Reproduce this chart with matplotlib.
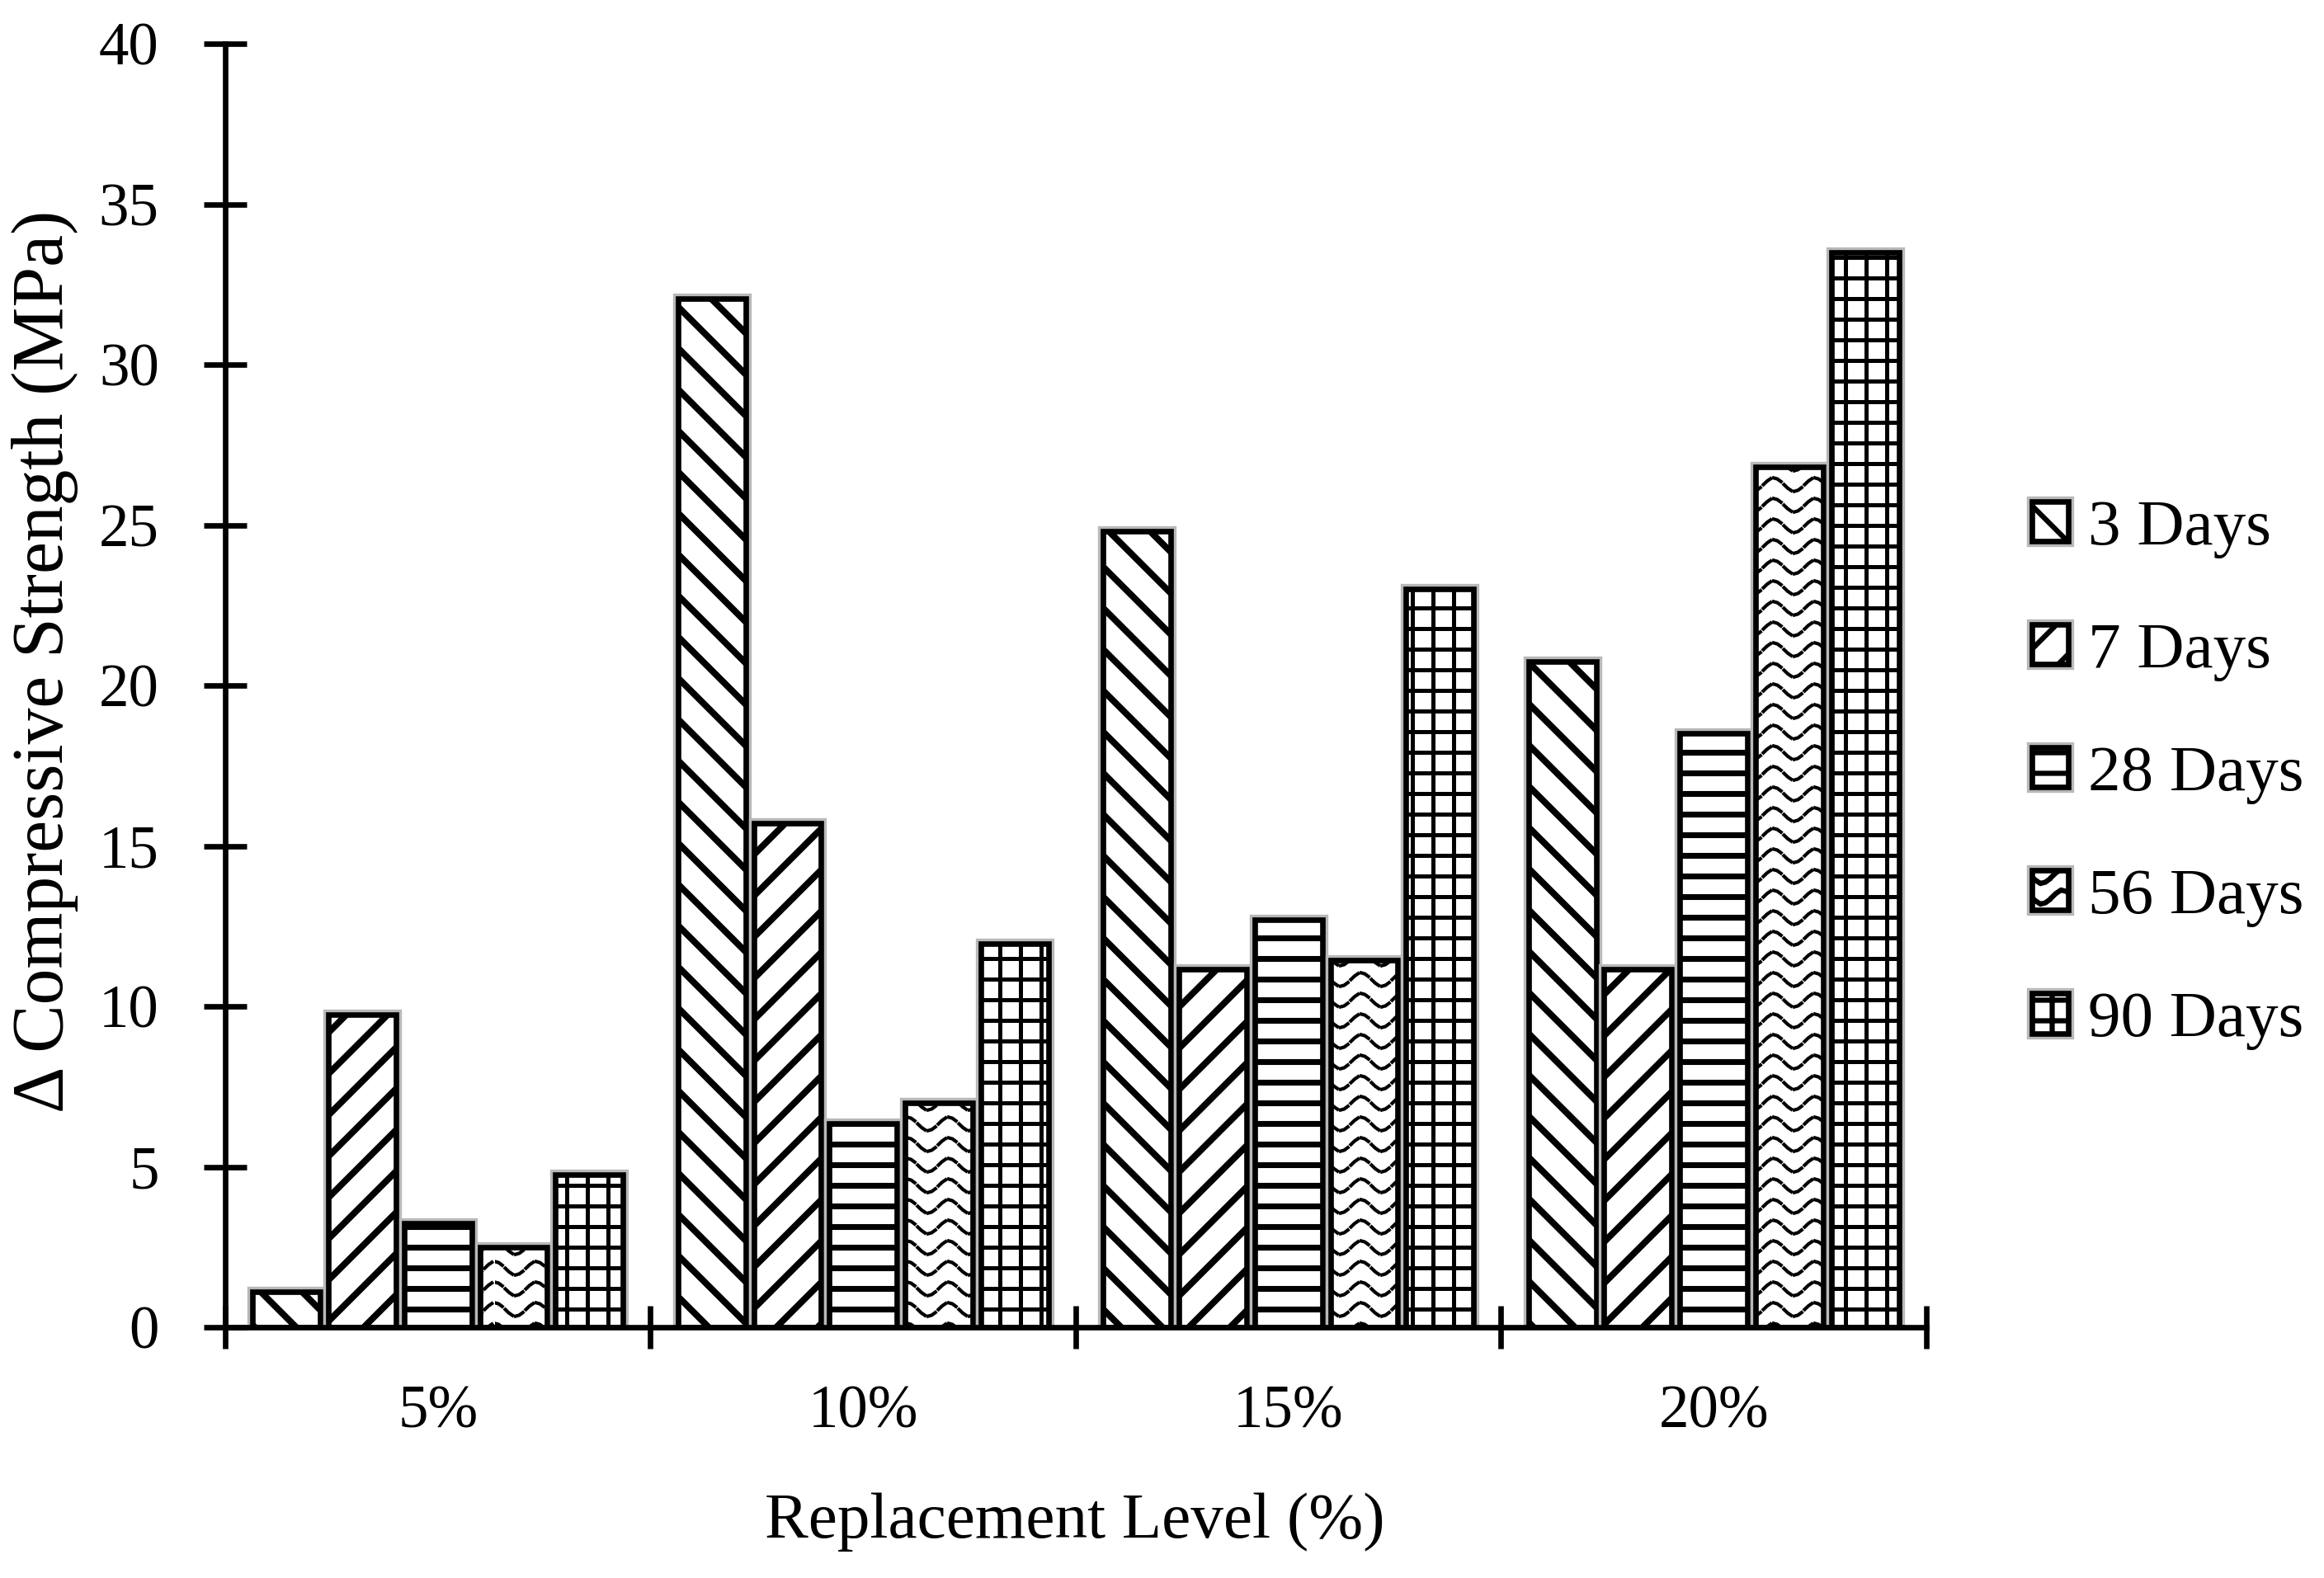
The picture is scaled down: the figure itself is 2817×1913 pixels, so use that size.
import numpy as np
import matplotlib
matplotlib.use('Agg')
import matplotlib.pyplot as plt
import matplotlib.hatch as mhatch
import matplotlib.patheffects as pe
from matplotlib.path import Path

# data
levels = ['5%', '10%', '15%', '20%']
ages = ['3 Days', '7 Days', '28 Days', '56 Days', '90 Days']
d3 = [1.1, 32.05, 24.8, 20.75]
d7 = [9.75, 15.7, 11.15, 11.15]
d28 = [3.25, 6.35, 12.7, 18.5]
d56 = [2.5, 7.0, 11.45, 26.8]
d90 = [4.75, 11.95, 23.0, 33.5]
yticks = [0, 5, 10, 15, 20, 25, 30, 35, 40]

series = [d3, d7, d28, d56, d90]
hatches = ['\\\\', '//', '--', '~~', '++']
hatch_lw = [1.9, 1.9, 1.7, 1.0, 1.2]


# dashed wavy hatch, not built into matplotlib
class WaveHatch(mhatch.HatchPatternBase):
    def __init__(self, hatch, density):
        self.rows = int(hatch.count('~') * density)
        self.waves = 6
        self.dashes = 4 * self.waves
        self.num_vertices = self.rows * self.dashes * 3

    def set_vertices_and_codes(self, vertices, codes):
        k = 0
        step = 1.0 / self.dashes
        for i in range(self.rows):
            y0 = (i + 0.5) / self.rows
            for j in range(self.dashes):
                xs = np.linspace(j * step, j * step + step * 0.7, 3)
                ys = y0 + 0.027 * np.cos(2 * np.pi * self.waves * xs)
                vertices[k:k + 3, 0] = xs
                vertices[k:k + 3, 1] = ys
                codes[k] = Path.MOVETO
                codes[k + 1:k + 3] = Path.LINETO
                k += 3


mhatch._hatch_types.append(WaveHatch)
mhatch._validate_hatch_pattern = lambda h: None

plt.rcParams['font.family'] = ['Liberation Serif', 'DejaVu Serif']
plt.rcParams['hatch.linewidth'] = 1.5

fig = plt.figure(figsize=(2817 / 300, 1913 / 300))
ax = fig.add_axes([0.09691, 0.15891, 0.73198, 0.81338])

x = np.arange(len(levels))
pitch = 0.178
width = 0.159
shadow = [pe.Stroke(linewidth=3.2, foreground='0.72'), pe.Normal()]
handles = []
for k, vals in enumerate(series):
    with plt.rc_context({'hatch.linewidth': hatch_lw[k]}):
        bars = ax.bar(x + (k - 2) * pitch, vals, width, color='white',
                      edgecolor='black', linewidth=1.6, hatch=hatches[k],
                      label=ages[k], zorder=2)
    for b in bars:
        if hasattr(b, 'set_hatch_linewidth'):
            b.set_hatch_linewidth(hatch_lw[k])
        b.set_path_effects(shadow)
    handles.append(bars)

ax.set_xlim(-0.5, 3.5)
ax.set_ylim(0, 40)
for s in ['top', 'right']:
    ax.spines[s].set_visible(False)
for s in ['left', 'bottom']:
    ax.spines[s].set_linewidth(1.6)

ax.set_xticks([-0.5, 0.5, 1.5, 2.5, 3.5])
ax.set_xticklabels([])
ax.set_xticks(x, minor=True)
ax.set_xticklabels(levels, minor=True)
ax.tick_params(axis='x', which='major', direction='inout', length=12.7, width=1.6)
ax.tick_params(axis='x', which='minor', length=0, pad=16.8, labelsize=17.5)
ax.set_yticks(yticks)
ax.tick_params(axis='y', direction='inout', length=12.7, width=1.6, pad=12.9,
               labelsize=17.5)

ax.set_xlabel('Replacement Level (%)', fontsize=19, va='center')
ax.xaxis.set_label_coords(0.4995, -0.1517)
ax.set_ylabel('\u0394 Compressive Strength (MPa)', fontsize=21, va='center')
ax.yaxis.set_label_coords(-0.106, 0.519)

ax.legend(handles, ages, loc='center left', bbox_to_anchor=(0.8743, 0.5089),
          bbox_transform=fig.transFigure, frameon=False, fontsize=19,
          handlelength=0.56, handleheight=0.56, handletextpad=0.3,
          labelspacing=0.98, borderpad=0, borderaxespad=0)

fig.savefig('out.png', dpi=300)
